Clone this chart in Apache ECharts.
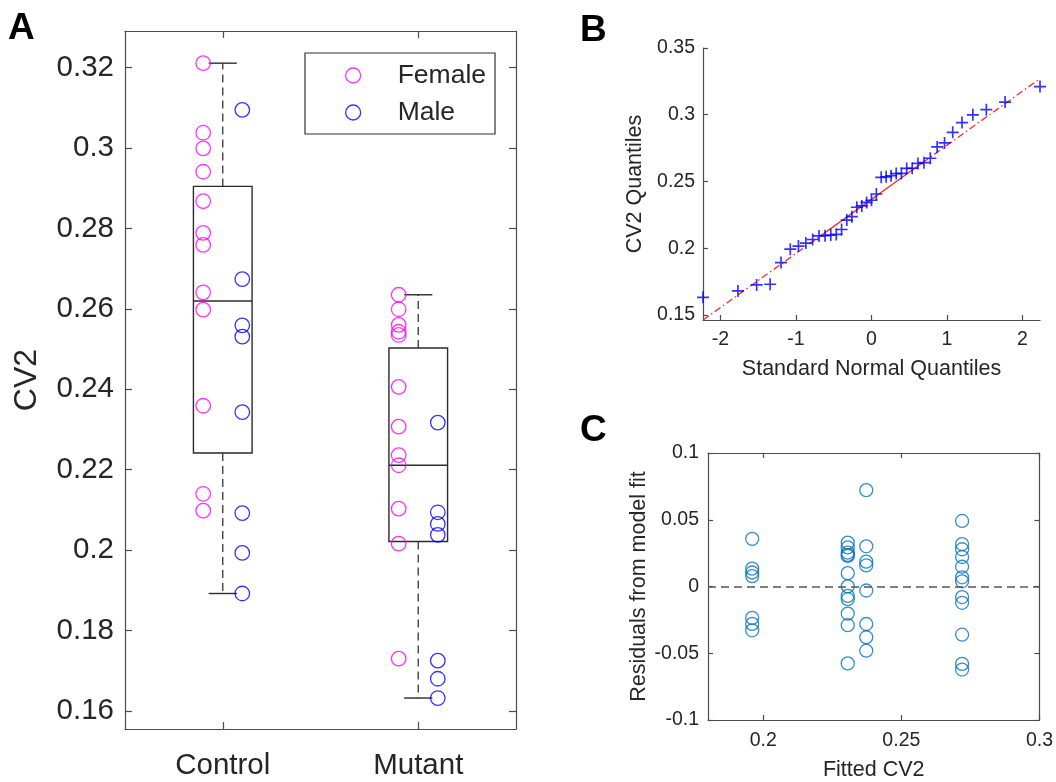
<!DOCTYPE html>
<html>
<head>
<meta charset="utf-8">
<script src="https://cdn.jsdelivr.net/npm/echarts@6/dist/echarts.min.js"></script>
<style>
  html, body { margin: 0; padding: 0; background: #fff; }
  #chart { width: 1056px; height: 782px; }
</style>
</head>
<body>
<div id="chart"></div>
<script>
// CV2 values
const controlFemale = [0.3211, 0.3038, 0.2999, 0.2941, 0.2868, 0.2789, 0.2759, 0.2641, 0.2598, 0.2359, 0.2140, 0.2098]
const controlMale = [0.3095, 0.2674, 0.2559, 0.2531, 0.2343, 0.2092, 0.1993, 0.1892]
const mutantFemale = [0.2635, 0.2599, 0.2560, 0.2543, 0.2535, 0.2406, 0.2307, 0.2236, 0.2211, 0.2103, 0.2016, 0.1730]
const mutantMale = [0.2317, 0.2094, 0.2065, 0.2038, 0.1725, 0.1680, 0.1632]

const groups = ['Control', 'Mutant']
// fitted CV2 of the model per group (panel C)
const fittedControlFemale = 0.272
const fittedControlMale = 0.2373
const fittedMutantFemale = 0.2306
const fittedMutantMale = 0.196

const ticksA = [0.16, 0.18, 0.2, 0.22, 0.24, 0.26, 0.28, 0.3, 0.32]
const ticksBy = [0.15, 0.2, 0.25, 0.3, 0.35]
const ticksBx = [-2, -1, 0, 1, 2]
const ticksCx = [0.2, 0.25, 0.3]

const FONT = "'Liberation Sans', Arial, Helvetica, sans-serif"
const TXT = '#262626'
const AXC = '#4d4d4d'
const MAG = '#ff00ff'
const BLU = '#0000ff'
const MBLUE = '#0072bd'

// MATLAB style percentile on sorted data
function prctile(sorted, p) {
  const n = sorted.length
  let pos = p * n + 0.5
  if (pos <= 1) return sorted[0]
  if (pos >= n) return sorted[n - 1]
  const i = Math.floor(pos)
  return sorted[i - 1] + (pos - i) * (sorted[i] - sorted[i - 1])
}

function boxStats(vals) {
  const s = vals.slice().sort((a, b) => a - b)
  const q1 = prctile(s, 0.25), med = prctile(s, 0.5), q3 = prctile(s, 0.75)
  const iqr = q3 - q1
  const lo = s.filter(v => v >= q1 - 1.5 * iqr)[0]
  const hi = s.filter(v => v <= q3 + 1.5 * iqr).slice(-1)[0]
  return [q1, med, q3, lo, hi]
}

// inverse standard normal (Acklam)
function norminv(p) {
  const a = [-39.6968302866538, 220.946098424521, -275.928510446969, 138.357751867269, -30.6647980661472, 2.50662827745924]
  const b = [-54.4760987982241, 161.585836858041, -155.698979859887, 66.8013118877197, -13.2806815528857]
  const c = [-0.00778489400243029, -0.322396458041136, -2.40075827716184, -2.54973253934373, 4.37466414146497, 2.93816398269878]
  const d = [0.00778469570904146, 0.32246712907004, 2.445134137143, 3.75440866190742]
  const pl = 0.02425
  let q, r
  if (p < pl) {
    q = Math.sqrt(-2 * Math.log(p))
    return (((((c[0] * q + c[1]) * q + c[2]) * q + c[3]) * q + c[4]) * q + c[5]) / ((((d[0] * q + d[1]) * q + d[2]) * q + d[3]) * q + 1)
  }
  if (p > 1 - pl) {
    q = Math.sqrt(-2 * Math.log(1 - p))
    return -(((((c[0] * q + c[1]) * q + c[2]) * q + c[3]) * q + c[4]) * q + c[5]) / ((((d[0] * q + d[1]) * q + d[2]) * q + d[3]) * q + 1)
  }
  q = p - 0.5
  r = q * q
  return (((((a[0] * r + a[1]) * r + a[2]) * r + a[3]) * r + a[4]) * r + a[5]) * q / (((((b[0] * r + b[1]) * r + b[2]) * r + b[3]) * r + b[4]) * r + 1)
}

// panel A data
const controlAll = controlFemale.concat(controlMale)
const mutantAll = mutantFemale.concat(mutantMale)
const boxData = [[1].concat(boxStats(controlAll)), [2].concat(boxStats(mutantAll))]
const femalePts = controlFemale.map(v => [0.9, v]).concat(mutantFemale.map(v => [1.9, v]))
const malePts = controlMale.map(v => [1.1, v]).concat(mutantMale.map(v => [2.1, v]))

// panel B: normal Q-Q
const allSorted = controlAll.concat(mutantAll).sort((a, b) => a - b)
const nAll = allSorted.length
const zq = allSorted.map((v, i) => norminv((i + 0.5) / nAll))
const qqPts = allSorted.map((v, i) => [zq[i], v])
const xq1 = prctile(zq, 0.25), xq3 = prctile(zq, 0.75)
const yq1 = prctile(allSorted, 0.25), yq3 = prctile(allSorted, 0.75)
const slope = (yq3 - yq1) / (xq3 - xq1)
const refY = x => yq1 + slope * (x - xq1)
const bxMin = zq[0], bxMax = zq[nAll - 1]
const refSolid = [[xq1, refY(xq1)], [xq3, refY(xq3)]]
const refDashL = [[bxMin, refY(bxMin)], [xq1, refY(xq1)]]
const refDashR = [[xq3, refY(xq3)], [bxMax, refY(bxMax)]]

// panel C: residuals
const resid = (vals, f) => vals.map(v => [f, v - f])
const residPts = resid(mutantMale, fittedMutantMale)
  .concat(resid(mutantFemale, fittedMutantFemale))
  .concat(resid(controlMale, fittedControlMale))
  .concat(resid(controlFemale, fittedControlFemale))

const boxHalf = 0.15, capHalf = 0.072

function renderBox(params, api) {
  const x = api.value(0)
  const q1 = api.value(1), med = api.value(2), q3 = api.value(3), lo = api.value(4), hi = api.value(5)
  const tl = api.coord([x - boxHalf, q3])
  const br = api.coord([x + boxHalf, q1])
  const mL = api.coord([x - boxHalf, med]), mR = api.coord([x + boxHalf, med])
  const cTop = api.coord([x, q3]), cHi = api.coord([x, hi])
  const cBot = api.coord([x, q1]), cLo = api.coord([x, lo])
  const capL = api.coord([x - capHalf, hi])[0], capR = api.coord([x + capHalf, hi])[0]
  const solid = { stroke: '#2b2b2b', lineWidth: 1.4, fill: null }
  const dashed = { stroke: '#444', lineWidth: 1.4, lineDash: [8, 5], fill: null }
  return {
    type: 'group',
    children: [
      { type: 'line', shape: { x1: cTop[0], y1: cTop[1], x2: cHi[0], y2: cHi[1] }, style: dashed },
      { type: 'line', shape: { x1: cBot[0], y1: cBot[1], x2: cLo[0], y2: cLo[1] }, style: dashed },
      { type: 'line', shape: { x1: capL, y1: cHi[1], x2: capR, y2: cHi[1] }, style: solid },
      { type: 'line', shape: { x1: capL, y1: cLo[1], x2: capR, y2: cLo[1] }, style: solid },
      { type: 'rect', shape: { x: tl[0], y: tl[1], width: br[0] - tl[0], height: br[1] - tl[1] }, style: solid },
      { type: 'line', shape: { x1: mL[0], y1: mL[1], x2: mR[0], y2: mR[1] }, style: solid }
    ]
  }
}

function axisBase(extra) {
  return Object.assign({
    type: 'value',
    axisLine: { show: true, onZero: false, lineStyle: { color: AXC, width: 1.2 } },
    axisTick: { show: true, inside: true, length: 5, lineStyle: { color: AXC, width: 1.2 } },
    axisLabel: { show: false },
    splitLine: { show: false }
  }, extra)
}

const labelA = { show: true, color: TXT, fontSize: 29.5, fontFamily: FONT }
const labelBC = { show: true, color: TXT, fontSize: 19.5, fontFamily: FONT }
const nameA = { color: TXT, fontSize: 32, fontFamily: FONT }
const nameBC = { color: TXT, fontSize: 21.5, fontFamily: FONT }
const plus = 'path://M0,4.3H10V5.7H0Z M4.3,0H5.7V10H4.3Z'

const chart = echarts.init(document.getElementById('chart'), null, { renderer: 'canvas' })

const option = {
  animation: false,
  backgroundColor: '#fff',
  textStyle: { fontFamily: FONT },
  graphic: [
    { type: 'text', left: 8, top: 10, style: { text: 'A', font: 'bold 37px ' + FONT, fill: '#000' } },
    { type: 'text', left: 580, top: 12, style: { text: 'B', font: 'bold 37px ' + FONT, fill: '#000' } },
    { type: 'text', left: 580, top: 412, style: { text: 'C', font: 'bold 37px ' + FONT, fill: '#000' } }
  ],
  legend: {
    orient: 'vertical',
    left: 305, top: 53,
    padding: [9, 9, 8, 40],
    itemGap: 10,
    itemWidth: 15, itemHeight: 15,
    borderColor: '#333', borderWidth: 1.2,
    textStyle: { fontSize: 26.5, color: TXT, fontFamily: FONT, padding: [0, 0, 0, 32] },
    data: [
      { name: 'Female', icon: 'circle', itemStyle: { color: 'rgba(0,0,0,0)', borderColor: MAG, borderWidth: 1.3 } },
      { name: 'Male', icon: 'circle', itemStyle: { color: 'rgba(0,0,0,0)', borderColor: BLU, borderWidth: 1.3 } }
    ]
  },
  grid: [
    { left: 125, top: 31, width: 391, height: 698 },
    { left: 703, top: 48, width: 337, height: 272 },
    { left: 708, top: 453, width: 332, height: 267 }
  ],
  xAxis: [
    axisBase({
      gridIndex: 0, position: 'bottom', min: 0.5, max: 2.5,
      axisTick: { show: true, inside: true, length: 7, customValues: [1, 2], lineStyle: { color: AXC, width: 1.2 } },
      axisLabel: Object.assign({}, labelA, { margin: 22, customValues: [1, 2], formatter: v => groups[Math.round(v) - 1] })
    }),
    axisBase({
      gridIndex: 0, position: 'top', min: 0.5, max: 2.5,
      axisTick: { show: true, inside: true, length: 7, customValues: [1, 2], lineStyle: { color: AXC, width: 1.2 } }
    }),
    axisBase({
      gridIndex: 1, position: 'bottom', min: bxMin, max: bxMax,
      axisTick: { show: true, inside: true, length: 5, customValues: ticksBx, lineStyle: { color: AXC, width: 1.2 } },
      axisLabel: Object.assign({}, labelBC, { margin: 10, customValues: ticksBx }),
      name: 'Standard Normal Quantiles', nameLocation: 'middle', nameGap: 38, nameTextStyle: nameBC
    }),
    axisBase({
      gridIndex: 2, position: 'bottom', min: 0.18, max: 0.3,
      axisTick: { show: true, inside: true, length: 5, customValues: ticksCx, lineStyle: { color: AXC, width: 1.2 } },
      axisLabel: Object.assign({}, labelBC, { margin: 11, customValues: ticksCx }),
      name: 'Fitted CV2', nameLocation: 'middle', nameGap: 39, nameTextStyle: nameBC
    }),
    axisBase({
      gridIndex: 2, position: 'top', min: 0.18, max: 0.3,
      axisTick: { show: true, inside: true, length: 5, customValues: ticksCx, lineStyle: { color: AXC, width: 1.2 } }
    })
  ],
  yAxis: [
    axisBase({
      gridIndex: 0, position: 'left', min: 0.1555, max: 0.3291,
      axisTick: { show: true, inside: true, length: 7, customValues: ticksA, lineStyle: { color: AXC, width: 1.2 } },
      axisLabel: Object.assign({}, labelA, { margin: 11, customValues: ticksA }),
      name: 'CV2', nameLocation: 'middle', nameGap: 82, nameTextStyle: nameA
    }),
    axisBase({
      gridIndex: 0, position: 'right', min: 0.1555, max: 0.3291,
      axisTick: { show: true, inside: true, length: 7, customValues: ticksA, lineStyle: { color: AXC, width: 1.2 } }
    }),
    axisBase({
      gridIndex: 1, position: 'left', min: 0.1462, max: 0.35,
      axisTick: { show: true, inside: true, length: 5, customValues: ticksBy, lineStyle: { color: AXC, width: 1.2 } },
      axisLabel: Object.assign({}, labelBC, { margin: 8, customValues: ticksBy }),
      name: 'CV2 Quantiles', nameLocation: 'middle', nameGap: 57, nameTextStyle: nameBC
    }),
    axisBase({
      gridIndex: 2, position: 'left', min: -0.1, max: 0.1, interval: 0.05,
      axisTick: { show: true, inside: true, length: 5, lineStyle: { color: AXC, width: 1.2 } },
      axisLabel: Object.assign({}, labelBC, { margin: 9 }),
      name: 'Residuals from model fit', nameLocation: 'middle', nameGap: 58, nameTextStyle: nameBC
    }),
    axisBase({
      gridIndex: 2, position: 'right', min: -0.1, max: 0.1, interval: 0.05,
      axisTick: { show: true, inside: true, length: 5, lineStyle: { color: AXC, width: 1.2 } }
    })
  ],
  series: [
    {
      type: 'custom', name: 'box', xAxisIndex: 0, yAxisIndex: 0,
      renderItem: renderBox, encode: { x: 0, y: [1, 2, 3, 4, 5] },
      data: boxData, z: 2
    },
    {
      type: 'scatter', name: 'Female', xAxisIndex: 0, yAxisIndex: 0,
      symbol: 'circle', symbolSize: 14.5, data: femalePts, z: 3,
      itemStyle: { color: 'rgba(0,0,0,0)', borderColor: MAG, borderWidth: 1.3 }
    },
    {
      type: 'scatter', name: 'Male', xAxisIndex: 0, yAxisIndex: 0,
      symbol: 'circle', symbolSize: 14.5, data: malePts, z: 3,
      itemStyle: { color: 'rgba(0,0,0,0)', borderColor: BLU, borderWidth: 1.3 }
    },
    {
      type: 'line', xAxisIndex: 2, yAxisIndex: 2, data: refDashL, symbol: 'none',
      lineStyle: { color: '#ff2a2a', width: 1.3, type: [7, 3, 1.5, 3] }, z: 2
    },
    {
      type: 'line', xAxisIndex: 2, yAxisIndex: 2, data: refDashR, symbol: 'none',
      lineStyle: { color: '#ff2a2a', width: 1.3, type: [7, 3, 1.5, 3] }, z: 2
    },
    {
      type: 'line', xAxisIndex: 2, yAxisIndex: 2, data: refSolid, symbol: 'none',
      lineStyle: { color: '#ff2a2a', width: 1.3 }, z: 2
    },
    {
      type: 'scatter', xAxisIndex: 2, yAxisIndex: 2, data: qqPts,
      symbol: plus, symbolSize: 12, itemStyle: { color: BLU }, z: 3
    },
    {
      type: 'scatter', xAxisIndex: 3, yAxisIndex: 3, data: residPts,
      symbol: 'circle', symbolSize: 13, z: 3,
      itemStyle: { color: 'rgba(0,0,0,0)', borderColor: MBLUE, borderWidth: 1.3 },
      markLine: {
        silent: true, symbol: 'none', label: { show: false },
        lineStyle: { color: '#555', width: 1.6, type: [8, 5] },
        data: [{ yAxis: 0 }]
      }
    }
  ]
}
chart.setOption(option)
</script>
</body>
</html>
